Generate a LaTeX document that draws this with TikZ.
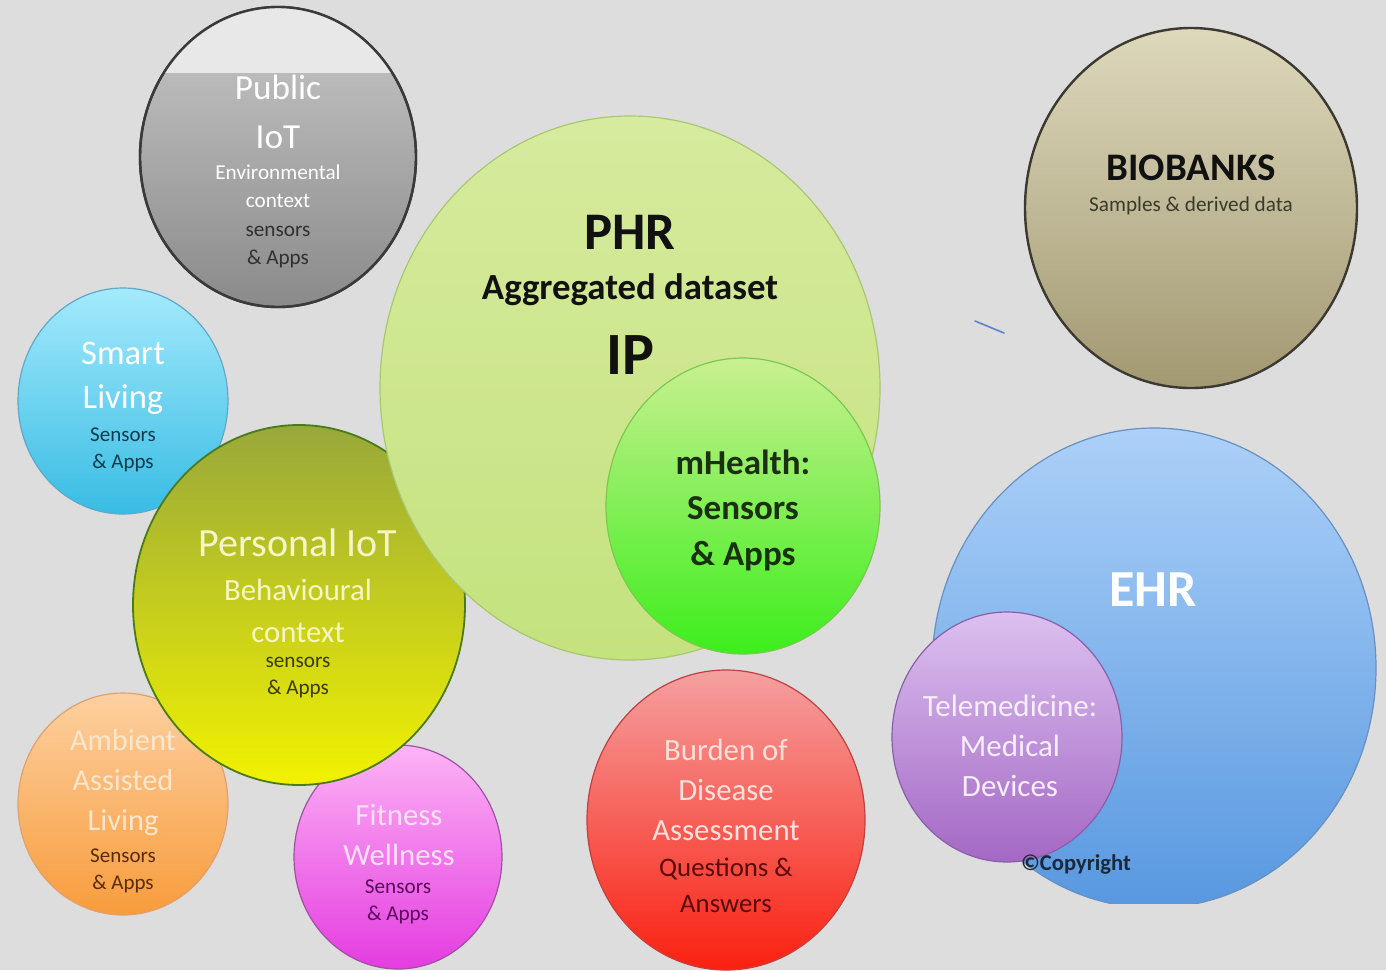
\documentclass[tikz,border=0pt]{standalone}
\usepackage{fontspec}
\setmainfont{Carlito}
\usetikzlibrary{shapes.geometric}
\definecolor{paper}{RGB}{221, 221, 221}
\definecolor{paperlight}{RGB}{232, 232, 232}
\definecolor{pubtop}{RGB}{200, 200, 200}
\definecolor{pubbottom}{RGB}{138, 138, 138}
\definecolor{pubedge}{RGB}{58, 58, 58}
\definecolor{biotop}{RGB}{222, 216, 188}
\definecolor{biobottom}{RGB}{162, 153, 114}
\definecolor{bioedge}{RGB}{60, 58, 48}
\definecolor{phrtop}{RGB}{214, 235, 158}
\definecolor{phrbottom}{RGB}{196, 226, 126}
\definecolor{phredge}{RGB}{168, 200, 112}
\definecolor{mhtop}{RGB}{200, 240, 144}
\definecolor{mhbottom}{RGB}{60, 238, 28}
\definecolor{mhedge}{RGB}{124, 200, 80}
\definecolor{perstop}{RGB}{152, 168, 58}
\definecolor{persbottom}{RGB}{242, 242, 0}
\definecolor{persedge}{RGB}{74, 122, 26}
\definecolor{smarttop}{RGB}{164, 234, 252}
\definecolor{smartbottom}{RGB}{56, 188, 228}
\definecolor{smartedge}{RGB}{96, 168, 200}
\definecolor{ambtop}{RGB}{253, 208, 160}
\definecolor{ambbottom}{RGB}{248, 156, 60}
\definecolor{ambedge}{RGB}{224, 160, 112}
\definecolor{fittop}{RGB}{253, 180, 246}
\definecolor{fitbottom}{RGB}{228, 60, 224}
\definecolor{fitedge}{RGB}{160, 80, 160}
\definecolor{burtop}{RGB}{244, 160, 160}
\definecolor{burbottom}{RGB}{250, 32, 16}
\definecolor{buredge}{RGB}{192, 64, 64}
\definecolor{ehrtop}{RGB}{172, 208, 248}
\definecolor{ehrbottom}{RGB}{88, 152, 224}
\definecolor{ehredge}{RGB}{104, 144, 192}
\definecolor{teletop}{RGB}{220, 192, 240}
\definecolor{telebottom}{RGB}{164, 104, 196}
\definecolor{teleedge}{RGB}{136, 96, 168}
\definecolor{inkdark}{RGB}{17, 17, 17}
\definecolor{pubink}{RGB}{48, 48, 48}
\definecolor{mhink}{RGB}{26, 48, 16}
\definecolor{bioink}{RGB}{58, 58, 42}
\definecolor{smartink}{RGB}{18, 58, 74}
\definecolor{persink}{RGB}{58, 58, 16}
\definecolor{persname}{RGB}{246, 246, 196}
\definecolor{ambink}{RGB}{90, 42, 10}
\definecolor{ambname}{RGB}{253, 230, 204}
\definecolor{fitink}{RGB}{90, 10, 90}
\definecolor{fitname}{RGB}{251, 224, 248}
\definecolor{burink}{RGB}{90, 10, 10}
\definecolor{burname}{RGB}{253, 224, 220}
\definecolor{telename}{RGB}{246, 238, 250}
\definecolor{copyink}{RGB}{26, 42, 58}
\definecolor{strokeblue}{RGB}{96, 128, 200}

\begin{document}
\begin{tikzpicture}[x=0.5pt, y=-0.5pt,
  bubble/.style={ellipse, inner sep=0pt, line width=0.6pt},
  txt/.style={align=center, inner sep=0pt}]

\useasboundingbox (0,0) rectangle (1386,970);
\fill[paper] (0,0) rectangle (1386,970);

\node[bubble, draw=pubedge, line width=1.2pt, top color=pubtop, bottom color=pubbottom,
  minimum width=138pt, minimum height=150pt] (pub) at (278,157) {};
\begin{scope}
\clip (pub.center) ellipse [x radius=138, y radius=150];
\fill[paperlight] (140,0) rectangle (416,73);
\end{scope}
\draw[pubedge, line width=1.2pt] (pub.center) ellipse [x radius=138, y radius=150];

\node[bubble, draw=bioedge, line width=1.2pt, top color=biotop, bottom color=biobottom,
  minimum width=166pt, minimum height=180pt] (bio) at (1191,208) {};

\node[bubble, draw=smartedge, top color=smarttop, bottom color=smartbottom,
  minimum width=105pt, minimum height=113pt] (smart) at (123,401) {};
\node[bubble, draw=ambedge, top color=ambtop, bottom color=ambbottom,
  minimum width=105pt, minimum height=111pt] (amb) at (123,804) {};
\node[bubble, draw=fitedge, top color=fittop, bottom color=fitbottom,
  minimum width=104pt, minimum height=112pt] (fit) at (398,857) {};
\node[bubble, draw=persedge, line width=0.9pt, top color=perstop, bottom color=persbottom,
  minimum width=166pt, minimum height=180pt] (pers) at (299,605) {};

\node[bubble, draw=phredge, top color=phrtop, bottom color=phrbottom,
  minimum width=250pt, minimum height=272pt] (phr) at (630,388) {};
\node[bubble, draw=mhedge, top color=mhtop, bottom color=mhbottom,
  minimum width=137pt, minimum height=148pt] (mh) at (743,506) {};

\node[bubble, draw=buredge, top color=burtop, bottom color=burbottom,
  minimum width=139pt, minimum height=150pt] (bur) at (726,820) {};

\begin{scope}
\clip (0,0) rectangle (1386,903);
\node[bubble, draw=ehredge, top color=ehrtop, bottom color=ehrbottom,
  minimum width=222pt, minimum height=240pt] (ehr) at (1154,668) {};
\end{scope}
\node[bubble, draw=teleedge, top color=teletop, bottom color=telebottom,
  minimum width=115pt, minimum height=125pt] (tele) at (1007,737) {};

\coordinate (nick1) at (975,321);
\coordinate (nick2) at (1004,333);
\draw[strokeblue, line width=0.8pt, line cap=round] (nick1) -- (nick2);

\node[txt, text=white, font=\fontsize{17.6}{24.5}\selectfont] (pubname) at (278,112) {Public\\IoT};
\node[txt, text=pubink, font=\fontsize{10.6}{14.2}\selectfont] (pubsub) at (278,216.5)
  {\textcolor{white}{Environmental}\\\textcolor{white}{context}\\sensors\\\& Apps};

\node[txt, text=inkdark, font=\bfseries\fontsize{26.4}{30}\selectfont] (phrname) at (630,232) {PHR};
\node[txt, text=inkdark, font=\bfseries\fontsize{18.4}{22}\selectfont] (phrdata) at (630,290) {Aggregated dataset};
\node[txt, text=inkdark, font=\bfseries\fontsize{30}{34}\selectfont] (phrip) at (630,355) {IP};

\node[txt, text=mhink, font=\bfseries\fontsize{17.5}{22.75}\selectfont] (mhtxt) at (743,510) {mHealth:\\Sensors\\\& Apps};

\node[txt, text=inkdark, font=\bfseries\fontsize{19.5}{23}\selectfont] (bioname) at (1191,168) {BIOBANKS};
\node[txt, text=bioink, font=\fontsize{10.6}{13}\selectfont] (biosub) at (1191,206) {Samples \& derived data};

\node[txt, text=white, font=\bfseries\fontsize{26}{30}\selectfont] (ehrname) at (1153,590) {EHR};
\node[txt, text=telename, font=\fontsize{15.5}{20}\selectfont] (telename) at (1010,746) {Telemedicine:\\Medical\\Devices};
\node[txt, text=copyink, font=\bfseries\fontsize{11.3}{13}\selectfont] (copy) at (1076,864) {©Copyright};

\node[txt, text=white, font=\fontsize{17.3}{22}\selectfont] (smartname) at (123,378) {Smart\\Living};
\node[txt, text=smartink, font=\fontsize{10.5}{13.5}\selectfont] (smartsub) at (123,450) {Sensors\\\& Apps};

\node[txt, text=persname, font=\fontsize{20}{24}\selectfont] (persname) at (298,543) {Personal IoT};
\node[txt, text=persname, font=\fontsize{15.4}{21}\selectfont] (perscontext) at (298,611) {Behavioural\\context};
\node[txt, text=persink, font=\fontsize{10.6}{13.5}\selectfont] (perssub) at (298,678) {sensors\\\& Apps};

\node[txt, text=ambname, font=\fontsize{15.2}{20}\selectfont] (ambname) at (123,783) {Ambient\\Assisted\\Living};
\node[txt, text=ambink, font=\fontsize{10.5}{13.5}\selectfont] (ambsub) at (123,871) {Sensors\\\& Apps};

\node[txt, text=fitname, font=\fontsize{15.4}{20}\selectfont] (fitname) at (399,835) {Fitness\\Wellness};
\node[txt, text=fitink, font=\fontsize{10.6}{13.5}\selectfont] (fitsub) at (398,902) {Sensors\\\& Apps};

\node[txt, text=burname, font=\fontsize{15.4}{20}\selectfont] (burname) at (726,790) {Burden of\\Disease\\Assessment};
\node[txt, text=burink, font=\fontsize{13.4}{18}\selectfont] (bursub) at (726,885) {Questions \&\\Answers};
\end{tikzpicture}
\end{document}
